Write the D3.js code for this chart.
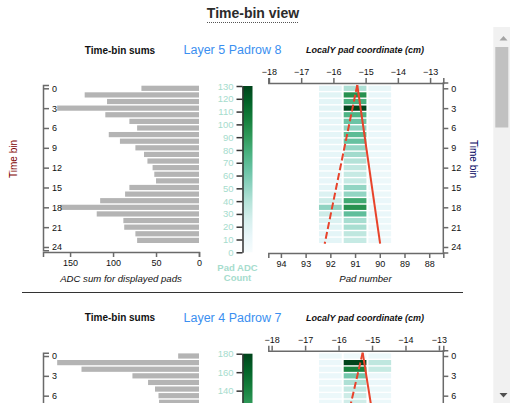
<!DOCTYPE html>
<html>
<head>
<meta charset="utf-8">
<script src="https://cdn.jsdelivr.net/npm/d3@7"></script>
<style>
  html, body { margin: 0; padding: 0; background: #fff; overflow: hidden; }
  svg { display: block; font-family: "Liberation Sans", Arial, sans-serif; }
  .axis path, .axis line { stroke: #6a6a6a; stroke-width: 1.5; }
  .axis text { fill: #111; font-size: 9px; font-family: "Liberation Sans", Arial, sans-serif; }
  .cbaxis path, .cbaxis line { stroke: #333; stroke-width: 1.5; }
  .cbaxis text { fill: #a6dccd; font-size: 9.5px; font-family: "Liberation Sans", Arial, sans-serif; }
</style>
</head>
<body>
<script>
// ---------------- data ----------------
const timeTicks = [0, 3, 6, 9, 12, 15, 18, 21, 24];
const sumTicks = [150, 100, 50, 0];
const padTicks = [94, 93, 92, 91, 90, 89, 88];
const cmTicks = [-18, -17, -16, -15, -14, -13];
const shownPads = [92, 91, 90];

// Panel 1 : Layer 5 Padrow 8 (time bins 0..23)
const p1Title = "Layer 5 Padrow 8";
const p1Sums = [67, 133, 107, 165, 109, 81, 72, 105, 92, 74, 64, 60, 54, 52, 50, 81, 86, 115, 161, 119, 88, 87, 74, 72];
const p1Pad92 = [16, 18, 16, 17, 15, 14, 14, 15, 15, 14, 14, 13, 14, 14, 13, 15, 22, 30, 52, 30, 22, 18, 16, 16];
const p1Pad91 = [42, 95, 78, 130, 76, 64, 52, 70, 66, 50, 46, 40, 35, 33, 33, 51, 51, 82, 95, 68, 44, 44, 36, 33];
const p1Pad90 = [12, 13, 12, 13, 11, 10, 10, 11, 10, 10, 10, 10, 9, 9, 9, 10, 10, 11, 12, 11, 10, 10, 9, 9];
const p1ColorMax = 130;
const p1ColorTicks = [0, 10, 20, 30, 40, 50, 60, 70, 80, 90, 100, 110, 120, 130];
const p1LocalY = [-18.02, -12.59];
const p1Track = { top: -15.26, solidBottom: -14.55, dashedBottom: -16.27 };

// Panel 2 : Layer 4 Padrow 7 (visible time bins 0..7)
const p2Title = "Layer 4 Padrow 7";
const p2Sums = [36, 245, 203, 115, 88, 76, 70, 69];
const p2Pad92 = [12, 15, 15, 15, 14, 14, 14, 14];
const p2Pad91 = [10, 180, 142, 84, 58, 48, 42, 40];
const p2Pad90 = [13, 50, 46, 15, 15, 14, 13, 14];
const p2ColorMax = 180;
const p2ColorTicks = [0, 20, 40, 60, 80, 100, 120, 140, 160, 180];
const p2LocalY = [-18.10, -12.87];
const p2Track = { top: -15.28, solidBottom: -14.52, dashedBottom: -16.38 };

// ---------------- drawing ----------------
const W = 510, H = 403;
const svg = d3.select("body").append("svg").attr("width", W).attr("height", H);

const defs = svg.append("defs");

// title
svg.append("text").attr("x", 253).attr("y", 18).attr("text-anchor", "middle")
  .attr("font-size", 14).attr("font-weight", "bold").attr("fill", "#2b2b2b").text("Time-bin view");
svg.append("line").attr("x1", 207).attr("x2", 299).attr("y1", 22.5).attr("y2", 22.5)
  .attr("stroke", "#555").attr("stroke-width", 1.2).attr("stroke-dasharray", "1,1");

const content = svg.append("g");

function drawPanel(g, cfg, idx) {
  const y = d3.scaleLinear().domain([-0.5, 24.5]).range([85, 250.3]);
  const bandH = y(1) - y(0);
  const bins = d3.range(cfg.sums.length);

  // headers
  g.append("text").attr("x", 120).attr("y", 53.5).attr("text-anchor", "middle")
    .attr("font-size", 10).attr("font-weight", "bold").attr("fill", "#111").text("Time-bin sums");
  g.append("text").attr("x", 183.5).attr("y", 54).attr("font-size", 12.5)
    .attr("fill", "#3b8ff0").text(cfg.title);
  g.append("text").attr("x", 365).attr("y", 53).attr("text-anchor", "middle")
    .attr("font-size", 9).attr("font-weight", "bold").attr("font-style", "italic").attr("fill", "#111")
    .text("LocalY pad coordinate (cm)");

  // ---- bar chart of sums ----
  const xs = d3.scaleLinear().domain([0, d3.max(cfg.sums) * 1.1]).range([199, 43]);
  g.selectAll(".bar").data(bins).join("rect")
    .attr("x", d => xs(cfg.sums[d]))
    .attr("width", d => xs(0) - xs(cfg.sums[d]))
    .attr("y", d => y(d - 0.5) + 0.7)
    .attr("height", bandH - 1.4)
    .attr("fill", "#b4b4b4");

  g.append("g").attr("class", "axis").attr("transform", "translate(43,0)")
    .call(d3.axisRight(y).tickValues(timeTicks).tickSize(6).tickSizeOuter(6));
  g.append("g").attr("class", "axis").attr("transform", "translate(0,252)")
    .call(d3.axisBottom(xs).tickValues(sumTicks).tickSize(5).tickSizeOuter(5));
  g.append("text").attr("x", 121).attr("y", 281.5).attr("text-anchor", "middle")
    .attr("font-size", 9.6).attr("font-style", "italic").attr("fill", "#111").text("ADC sum for displayed pads");
  g.append("text").attr("transform", "translate(16.5,159) rotate(-90)").attr("text-anchor", "middle")
    .attr("font-size", 10).attr("fill", "#800000").text("Time bin");

  // ---- colour bar ----
  const color = d3.scaleSequential(d3.interpolateBuGn).domain([0, cfg.colorMax]);
  const cy = d3.scaleLinear().domain([0, cfg.colorMax]).range([252.3, 86]);
  const gid = "cbgrad" + idx;
  const grad = defs.append("linearGradient").attr("id", gid)
    .attr("x1", 0).attr("y1", 1).attr("x2", 0).attr("y2", 0);
  d3.range(0, 1.0001, 0.1).forEach(t => {
    grad.append("stop").attr("offset", t).attr("stop-color", d3.interpolateBuGn(t));
  });
  g.append("rect").attr("x", 242.5).attr("y", cy(cfg.colorMax)).attr("width", 10)
    .attr("height", cy(0) - cy(cfg.colorMax)).attr("fill", `url(#${gid})`);
  g.append("g").attr("class", "cbaxis").attr("transform", "translate(242.5,0)")
    .call(d3.axisLeft(cy).tickValues(cfg.colorTicks).tickSize(6).tickSizeOuter(0));
  g.append("text").attr("x", 237.5).attr("y", 270.5).attr("text-anchor", "middle")
    .attr("font-size", 9.5).attr("font-weight", "bold").attr("fill", "#a6dccd").text("Pad ADC");
  g.append("text").attr("x", 237.5).attr("y", 280.5).attr("text-anchor", "middle")
    .attr("font-size", 9.5).attr("font-weight", "bold").attr("fill", "#a6dccd").text("Count");

  // ---- heatmap ----
  const xp = d3.scaleLinear().domain([94.51, 87.43]).range([268.3, 443.3]);
  const xc = d3.scaleLinear().domain(cfg.localY).range([268.3, 443.3]);
  const cells = [];
  shownPads.forEach((p, j) => {
    cfg.pads[j].forEach((v, t) => cells.push({ pad: p, t: t, v: v }));
  });
  g.selectAll(".cell").data(cells).join("rect")
    .attr("x", d => xp(d.pad + 0.5) + 1)
    .attr("width", d => xp(d.pad - 0.5) - xp(d.pad + 0.5) - 2)
    .attr("y", d => y(d.t - 0.5) + 0.7)
    .attr("height", bandH - 1.4)
    .attr("fill", d => color(d.v));

  // track lines
  const line = d3.line().x(d => xc(d[1])).y(d => y(d[0]));
  g.append("path").attr("d", line([[-0.5, cfg.track.top], [23.5, cfg.track.solidBottom]]))
    .attr("stroke", "#e8432b").attr("stroke-width", 2).attr("fill", "none");
  g.append("path").attr("d", line([[-0.5, cfg.track.top], [23.5, cfg.track.dashedBottom]]))
    .attr("stroke", "#e8432b").attr("stroke-width", 2).attr("fill", "none")
    .attr("stroke-dasharray", "7,3");

  g.append("g").attr("class", "axis").attr("transform", "translate(0,83)")
    .call(d3.axisTop(xc).tickValues(cmTicks).tickFormat(d3.format("d")).tickSize(5).tickSizeOuter(5));
  g.append("g").attr("class", "axis").attr("transform", "translate(0,253)")
    .call(d3.axisBottom(xp).tickValues(padTicks).tickSize(5).tickSizeOuter(5));
  g.append("g").attr("class", "axis").attr("transform", "translate(443.3,0)")
    .call(d3.axisRight(y).tickValues(timeTicks).tickSize(5).tickSizeOuter(5))
    .call(a => a.select(".domain").attr("d", "M5,83H0V253H5"));
  g.append("text").attr("x", 365.5).attr("y", 281.5).attr("text-anchor", "middle")
    .attr("font-size", 9.6).attr("font-style", "italic").attr("fill", "#111").text("Pad number");
  g.append("text").attr("transform", "translate(470,159) rotate(90)").attr("text-anchor", "middle")
    .attr("font-size", 10).attr("fill", "#000060").text("Time bin");
}

const p1 = content.append("g");
drawPanel(p1, {
  title: p1Title, sums: p1Sums, pads: [p1Pad92, p1Pad91, p1Pad90],
  colorMax: p1ColorMax, colorTicks: p1ColorTicks, localY: p1LocalY, track: p1Track
}, 1);

content.append("line").attr("x1", 22).attr("x2", 463).attr("y1", 292.5).attr("y2", 292.5)
  .attr("stroke", "#333").attr("stroke-width", 1);

const p2 = content.append("g").attr("transform", "translate(0,267.7)");
drawPanel(p2, {
  title: p2Title, sums: p2Sums, pads: [p2Pad92, p2Pad91, p2Pad90],
  colorMax: p2ColorMax, colorTicks: p2ColorTicks, localY: p2LocalY, track: p2Track
}, 2);

// content scrolled out of the visible area (below the window) is not shown
content.selectAll("text").each(function () {
  const b = this.getBoundingClientRect();
  if (b.top >= H) this.remove();
});

// ---- scrollbar ----
const sb = svg.append("g");
sb.append("rect").attr("x", 493.3).attr("y", 27).attr("width", 17).attr("height", 376).attr("fill", "#f1f1f1");
sb.append("path").attr("d", "M499.5,40.5L507.5,40.5L503.5,36Z").attr("fill", "#a3a3a3");
sb.append("rect").attr("x", 495.3).attr("y", 47).attr("width", 13).attr("height", 80.5).attr("fill", "#c1c1c1");
sb.append("path").attr("d", "M499.5,393L507.5,393L503.5,397.5Z").attr("fill", "#505050");
</script>
</body>
</html>
